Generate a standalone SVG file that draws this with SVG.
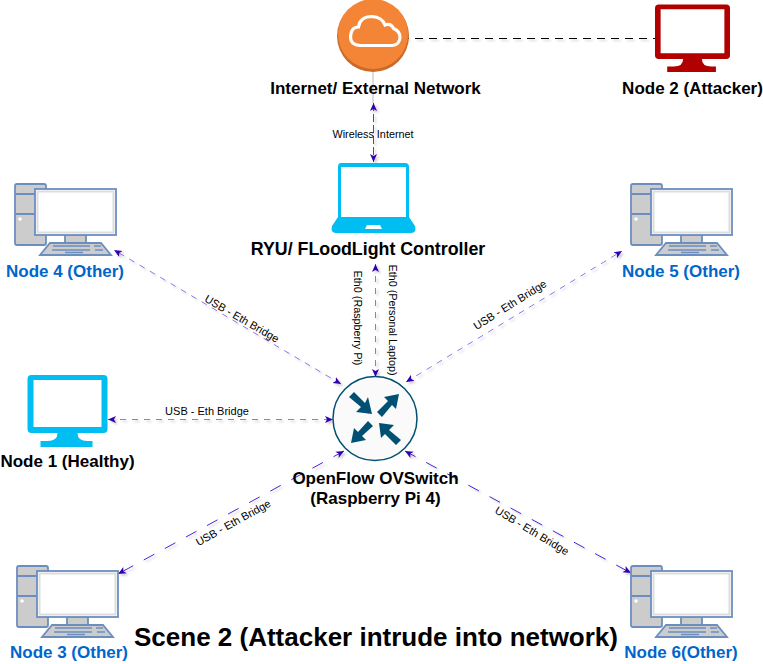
<svg xmlns="http://www.w3.org/2000/svg" xmlns:xlink="http://www.w3.org/1999/xlink" width="763" height="664" viewBox="0 0 763 664">
<style>
text{font-family:"Liberation Sans",Arial,sans-serif}
.t{font-size:17px;font-weight:bold;text-anchor:middle;fill:#000}
.b{font-size:17px;font-weight:bold;text-anchor:middle;fill:#0066cc}
.l{font-size:11px;text-anchor:middle;fill:#000}
.c{fill:none;stroke-width:1}
.f{stroke-dasharray:6 6;stroke:#8a78e6}
.d{stroke-dasharray:12 12;stroke:#4a22d8}
</style>
<defs>
<filter id="s" x="-20%" y="-20%" width="140%" height="140%"><feDropShadow dx="2" dy="2" stdDeviation="1.200" flood-color="#000" flood-opacity="0.2"/></filter>
<marker id="a" markerUnits="userSpaceOnUse" markerWidth="10" markerHeight="9" refX="8" refY="4.500" orient="auto-start-reverse"><path d="M0 1 L8 4.500 L0 8 L2 4.500Z" fill="#3200b0"/></marker>
<symbol id="pc" overflow="visible">
<g stroke="#6c8ebf" stroke-width="1.800" fill="#cccccc">
<rect x="15" y="14" width="31" height="61" rx="2"/>
<path d="M15 24H46M15 44H46"/>
<rect x="65" y="65" width="21" height="8"/>
<rect x="35" y="19" width="81" height="46" fill="#fff"/>
<rect x="37.500" y="21.500" width="76" height="41" fill="#fff" stroke="#ddd" stroke-width="2"/>
<path d="M40 85L50 73H101L111 85Z"/>
<path d="M53 76H90M94 76H101M52 80H90M95 80H103M65 82.500H83" fill="none" stroke-width="1.500"/>
</g>
<circle cx="20" cy="49" r="1.800" fill="#fff"/>
</symbol>
<symbol id="mon" overflow="visible" viewBox="0 0 80 72">
<path fill-rule="evenodd" d="M4 0H76Q80 0 80 4V54Q80 58 76 58H50Q50 66 60 66H65V72H13V66H20Q30 66 30 58H4Q0 58 0 54V4Q0 0 4 0ZM6 5V52H74V5Z"/>
</symbol>
</defs>
<g id="connectors">
<path d="M373 72V103" fill="none" stroke="#bbb" stroke-width="1"/>
<g filter="url(#s)">
<path class="c" d="M401 38.500H655" stroke="#000" stroke-dasharray="8 6"/>
<path class="c" d="M373.500 103V162" stroke="#555" stroke-dasharray="8 3" marker-start="url(#a)" marker-end="url(#a)"/>
<path class="c f" d="M341 384L114 250" marker-end="url(#a)" marker-start="url(#a)"/>
<path class="c f" d="M406 382L622 251" marker-end="url(#a)" marker-start="url(#a)"/>
<path class="c f" d="M108 419.500H333" marker-start="url(#a)" marker-end="url(#a)"/>
<path class="c d" d="M344 451L118 574" marker-start="url(#a)" marker-end="url(#a)"/>
<path class="c d" d="M405 451L631 573" marker-start="url(#a)" marker-end="url(#a)"/>
<path class="c f" d="M375.500 264V377" marker-start="url(#a)" marker-end="url(#a)"/>
</g>
</g>
<g id="edge-labels">
<text class="l" x="373" y="138" style="font-size:10.800px">Wireless Internet</text>
<text class="l" x="207" y="415">USB - Eth Bridge</text>
<text class="l" transform="translate(240 322) rotate(30)">USB - Eth Bridge</text>
<text class="l" transform="translate(512 308) rotate(-32)">USB - Eth Bridge</text>
<text class="l" transform="translate(235 526) rotate(-29)">USB - Eth Bridge</text>
<text class="l" transform="translate(530 534) rotate(31)">USB - Eth Bridge</text>
<text class="l" transform="translate(354 318) rotate(90)" style="font-size:10.800px">Eth0 (Raspberry Pi)</text>
<text class="l" transform="translate(389 320) rotate(90)" style="font-size:10.800px">Eth0 (Personal Laptop)</text>
</g>
<g id="internet">
<circle cx="373" cy="36" r="36" fill="#c9692a"/>
<circle cx="373" cy="34" r="35" fill="#f58536"/>
<path d="M360 45.500Q350.500 45 350.500 37 351 27 358.500 27 360 16.500 372 16.500 382 17 385 25 391 23 393.500 28.500 400 31 400 37.500 399.500 45 392 45.500Z" fill="none" stroke="#fff" stroke-width="3.200"/>
<text class="t" x="375.500" y="94">Internet/ External Network</text>
</g>
<g id="attacker">
<use xlink:href="#mon" href="#mon" x="655" y="4" width="75" height="68.500" fill="#b20000"/>
<text class="t" x="692.500" y="94">Node 2 (Attacker)</text>
</g>
<g id="controller">
<path d="M341 163H405Q409 163 409 167V217L415 226Q417 233 411 233H336Q330 233 332 226L338 217V167Q338 163 341 163Z" fill="#00bef2"/>
<rect x="341" y="167" width="65" height="50" fill="#fff"/>
<path d="M367 225H380L382 229H365Z" fill="#fff"/>
<text class="t" x="368" y="255" style="font-size:17.800px">RYU/ FLoodLight Controller</text>
</g>
<g id="node4"><use xlink:href="#pc" href="#pc" x="0" y="170"/><text class="b" x="65" y="277">Node 4 (Other)</text></g>
<g id="node5"><use xlink:href="#pc" href="#pc" x="616" y="170"/><text class="b" x="681" y="277">Node 5 (Other)</text></g>
<g id="node3"><use xlink:href="#pc" href="#pc" x="2" y="552"/><text class="b" x="69" y="658">Node 3 (Other)</text></g>
<g id="node6"><use xlink:href="#pc" href="#pc" x="616" y="552"/><text class="b" x="681" y="658">Node 6(Other)</text></g>
<g id="node1">
<use xlink:href="#mon" href="#mon" x="27" y="375" width="81" height="72" fill="#00bef2"/>
<text class="t" x="67.500" y="467">Node 1 (Healthy)</text>
</g>
<g id="switch">
<circle cx="375" cy="418.500" r="42" fill="#fafafa" stroke="#005073" stroke-width="1.500"/>
<g fill="#005073">
<path d="M349 397L354 392 365 403 368 397 372 414 356 412 361 407Z"/>
<path d="M377 412L388 401 384 397 399 394 396 409 392 405 382 417Z"/>
<path d="M368 421L358 432 354 428 351 443 366 440 362 436 373 426Z"/>
<path d="M379 423L394 425 389 430 401 440 396 445 385 434 381 438Z"/>
</g>
<text class="t" x="375.500" y="484">OpenFlow OVSwitch</text>
<text class="t" x="375.500" y="504">(Raspberry Pi 4)</text>
</g>
<text id="title" x="376" y="646" text-anchor="middle" style="font-size:26px;font-weight:bold">Scene 2 (Attacker intrude into network)</text>
</svg>
